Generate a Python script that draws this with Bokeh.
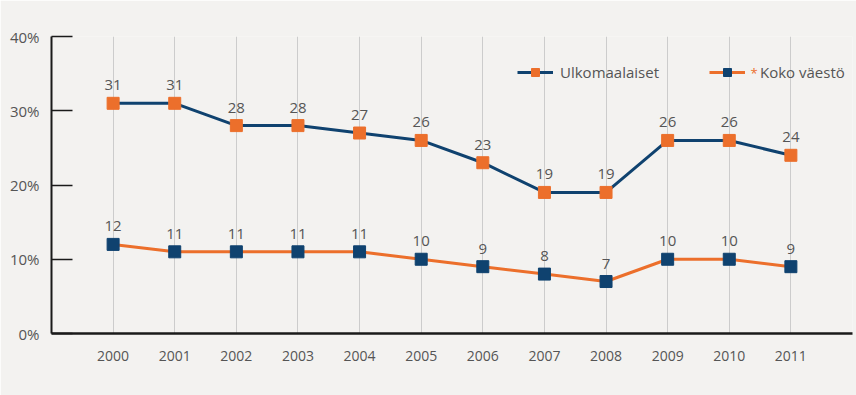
from bokeh.plotting import figure
from bokeh.models import (FixedTicker, Legend, LegendItem, Label, ColumnDataSource, Range1d)
from bokeh.embed import file_html
from bokeh.resources import INLINE
from bokeh.core.properties import value

years = [2000, 2001, 2002, 2003, 2004, 2005, 2006, 2007, 2008, 2009, 2010, 2011]
ulkomaalaiset = [31, 31, 28, 28, 27, 26, 23, 19, 19, 26, 26, 24]
koko_vaesto = [12, 11, 11, 11, 11, 10, 9, 8, 7, 10, 10, 9]
y_ticks = [0, 10, 20, 30, 40]
y_tick_labels = ["0%", "10%", "20%", "30%", "40%"]
series_names = ["Ulkomaalaiset", "Koko väestö"]

NAVY = "#0f426f"
ORANGE = "#ec6f2b"
BG = "#f3f2f0"
TXT = "#555555"
FONT = "Open Sans"

p = figure(width=856, height=395, output_backend="svg", toolbar_location=None,
           x_range=Range1d(1999, 2012), y_range=Range1d(0, 40),
           min_border_left=51, min_border_right=4, min_border_top=36, min_border_bottom=62)
p.background_fill_color = BG
p.border_fill_color = BG
p.outline_line_color = None

src = ColumnDataSource(dict(x=years, u=ulkomaalaiset, k=koko_vaesto,
                            ul=[str(v) for v in ulkomaalaiset],
                            kl=[str(v) for v in koko_vaesto]))

# axes
p.yaxis.ticker = FixedTicker(ticks=y_ticks)
p.yaxis.major_label_overrides = {t: l for t, l in zip(y_ticks, y_tick_labels)}
p.yaxis.major_tick_in = 21
p.yaxis.major_tick_out = 0
p.yaxis.minor_tick_line_color = None
p.yaxis.axis_line_width = 2
p.yaxis.axis_line_color = "#1a1a1a"
p.yaxis.major_tick_line_color = "#1a1a1a"
p.yaxis.major_tick_line_width = 1.5
p.yaxis.major_label_standoff = 12
p.yaxis.major_label_text_font = FONT
p.yaxis.major_label_text_font_size = "15px"
p.yaxis.major_label_text_color = TXT

p.xaxis.ticker = FixedTicker(ticks=years)
p.xaxis.major_tick_in = 0
p.xaxis.major_tick_out = 0
p.xaxis.minor_tick_line_color = None
p.xaxis.axis_line_width = 2.5
p.xaxis.axis_line_color = "#1a1a1a"
p.xaxis.major_label_standoff = 17
p.xaxis.major_label_text_font = FONT
p.xaxis.major_label_text_font_size = "14px"
p.xaxis.major_label_text_color = TXT

p.xgrid.ticker = FixedTicker(ticks=years + [2012])
p.xgrid.grid_line_color = "#cccccc"
p.xgrid.grid_line_width = 1
p.ygrid.grid_line_color = None

# series
l1 = p.line("x", "u", source=src, line_color=NAVY, line_width=3)
s1 = p.scatter("x", "u", source=src, marker="square", size=12, fill_color=ORANGE, line_color=ORANGE)
l2 = p.line("x", "k", source=src, line_color=ORANGE, line_width=3)
s2 = p.scatter("x", "k", source=src, marker="square", size=12, fill_color=NAVY, line_color=NAVY)

for col, ycol in (("ul", "u"), ("kl", "k")):
    p.text("x", ycol, text=col, source=src, text_align="center", text_baseline="middle",
           y_offset=-18, text_font=value(FONT), text_font_size="15px", text_color=TXT)

def mk_legend(item, x, standoff):
    lg = Legend(items=[item], location=(x, 251), orientation="horizontal",
                padding=0, margin=0, spacing=0, glyph_width=36, glyph_height=20,
                label_height=20, label_standoff=standoff,
                label_text_font=FONT, label_text_font_size="15px", label_text_color=TXT,
                background_fill_alpha=0, border_line_color=None)
    p.add_layout(lg, "center")
    return lg

mk_legend(LegendItem(label=series_names[0], renderers=[l1, s1]), 466, 7)
mk_legend(LegendItem(label=series_names[1], renderers=[l2, s2]), 658, 15)

p.add_layout(Label(x=699, y=261, x_units="screen", y_units="screen", text="*",
                   text_color=ORANGE, text_font=FONT, text_font_size="13px",
                   text_baseline="middle"))

open("out.html", "w").write(file_html(p, INLINE))
